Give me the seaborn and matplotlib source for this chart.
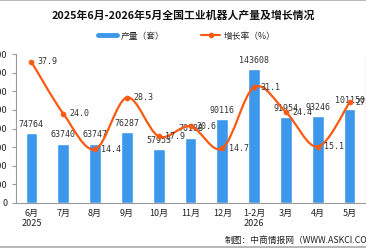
import numpy as np
import matplotlib
matplotlib.use('Agg')
from matplotlib import pyplot as plt
from matplotlib.path import Path
from matplotlib.patches import PathPatch
from matplotlib.lines import Line2D
import seaborn as sns

months = ['6月\n2025', '7月', '8月', '9月', '10月', '11月', '12月',
          '1-2月\n2026', '3月', '4月', '5月']
production = [74764, 63740, 63747, 76287, 57953, 70188, 90116,
              143608, 91954, 93246, 101150]
growth = [37.9, 24.0, 14.4, 28.3, 17.9, 20.6, 14.7, 31.1, 24.4, 15.1, 27.0]

sns.set_style('white')
plt.rcParams['font.family'] = ['Noto Sans CJK SC', 'DejaVu Sans']

bar_color = '#3d98ec'
line_color = '#fc5a12'

fig = plt.figure(figsize=(3.66, 2.48), dpi=100)
ax = fig.add_axes([15.5 / 366, 45 / 248, 350 / 366, 149 / 248])

sns.barplot(x=list(range(len(months))), y=production, ax=ax, color=bar_color,
            width=0.37, saturation=1, native_scale=False)
ax.set_xlim(-0.5, len(months) - 0.5)
ax.set_ylim(0, 160000)
ax.set_yticks(np.arange(0, 160001, 20000))
ax.set_xticks(range(len(months)))
ax.set_xticklabels(months, fontsize=6.5, color='#222222', linespacing=1.25)
ax.set_xticks(np.arange(-0.5, len(months), 1), minor=True)
ax.tick_params(axis='x', which='major', length=0, pad=4)
ax.tick_params(axis='x', which='minor', length=3, color='#999999', width=0.8)
ax.tick_params(axis='y', length=3, color='#999999', width=0.8, pad=3,
               labelsize=6.5, left=True)
ax.set_xlabel('')
ax.set_ylabel('')
ax.spines['top'].set_visible(False)
for side in ['left', 'bottom', 'right']:
    ax.spines[side].set_color('#999999')
    ax.spines[side].set_linewidth(0.8)

for i, v in enumerate(production):
    ax.annotate(str(v), (i, v), xytext=(0, 3), textcoords='offset points',
                ha='center', va='bottom', fontsize=6, color='#333333',
                family='DejaVu Sans Mono')

ax2 = ax.twinx()
ax2.set_ylim(0, 40)
ax2.set_yticks(np.arange(0, 41, 5))
ax2.tick_params(axis='y', length=0, labelsize=6.5)
for side in ['top', 'left', 'bottom']:
    ax2.spines[side].set_visible(False)
ax2.spines['right'].set_color('#999999')
ax2.spines['right'].set_linewidth(0.8)

# smooth curve through the points (cubic bezier segments)
xs = np.arange(len(growth), dtype=float)
ys = np.array(growth, dtype=float)
verts = [(xs[0], ys[0])]
codes = [Path.MOVETO]
n = len(xs)
for i in range(n - 1):
    p0 = (xs[max(i - 1, 0)], ys[max(i - 1, 0)])
    p1 = (xs[i], ys[i])
    p2 = (xs[i + 1], ys[i + 1])
    p3 = (xs[min(i + 2, n - 1)], ys[min(i + 2, n - 1)])
    c1 = (p1[0] + (p2[0] - p0[0]) / 6, p1[1] + (p2[1] - p0[1]) / 6)
    c2 = (p2[0] - (p3[0] - p1[0]) / 6, p2[1] - (p3[1] - p1[1]) / 6)
    verts += [c1, c2, p2]
    codes += [Path.CURVE4, Path.CURVE4, Path.CURVE4]
ax2.add_patch(PathPatch(Path(verts, codes), facecolor='none',
                        edgecolor=line_color, lw=1.6, zorder=3))
sns.scatterplot(x=xs, y=ys, ax=ax2, color=line_color, s=14,
                edgecolor=line_color, zorder=4, legend=False)

for i, v in enumerate(growth):
    ax2.annotate(f'{v:.1f}', (i, v), xytext=(4.5, 0), textcoords='offset points',
                 ha='left', va='center', fontsize=6, color='#333333',
                 family='DejaVu Sans Mono')

fig.text(0.5, 1 - 16 / 248, '2025年6月-2026年5月全国工业机器人产量及增长情况',
         ha='center', va='center', fontsize=7.8, fontweight='bold', color='#111111')

handles = [Line2D([0], [0], color=bar_color, lw=3.5),
           Line2D([0], [0], color=line_color, lw=1.5, marker='o', markersize=3)]
fig.legend(handles, ['产量（套）', '增长率（%）'], loc='center',
           bbox_to_anchor=(0.51, 1 - 36 / 248), ncol=2, frameon=False,
           fontsize=6.3, handlelength=2.2, columnspacing=4.2, handletextpad=0.4)

fig.text(225 / 366, 1 - 240 / 248, '制图：中商情报网（WWW.ASKCI.COM）',
         ha='left', va='center', fontsize=6.3, color='#222222')

fig.add_artist(Line2D([0, 1], [0.998, 0.998], color='#aaaaaa', lw=1.2))
fig.add_artist(Line2D([0, 1], [0.004, 0.004], color='#aaaaaa', lw=1.2))

fig.savefig('out.png', dpi=100)
